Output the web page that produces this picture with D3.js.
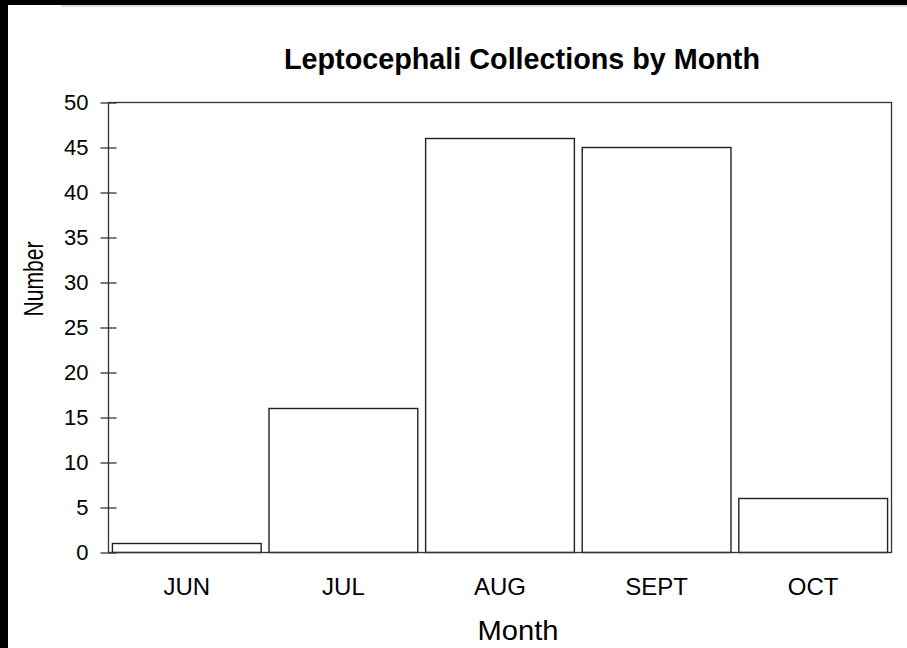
<!DOCTYPE html>
<html>
<head>
<meta charset="utf-8">
<script src="https://cdn.jsdelivr.net/npm/d3@7"></script>
<style>
  html, body { margin: 0; padding: 0; background: #fff; }
  svg { display: block; font-family: "Liberation Sans", Arial, sans-serif; }
</style>
</head>
<body>
<script>
'use strict';

// chart data
const months = ["JUN", "JUL", "AUG", "SEPT", "OCT"];
const counts = [1, 16, 46, 45, 6];
const yTicks = [0, 5, 10, 15, 20, 25, 30, 35, 40, 45, 50];

(function() {
  const W = 907, H = 648;
  const left = 108.5, right = 891.5, top = 102.5, bottom = 552.5;

  const svg = d3.select('body').append('svg')
    .attr('width', W)
    .attr('height', H);

  // black screen edge (left + top) and thin grey strip
  svg.append('rect').attr('x', 0).attr('y', 0).attr('width', W).attr('height', 5).attr('fill', '#000');
  svg.append('rect').attr('x', 0).attr('y', 0).attr('width', 8).attr('height', H).attr('fill', '#000');
  svg.append('rect').attr('x', 62).attr('y', 5).attr('width', W - 62).attr('height', 2).attr('fill', '#dcdcdc');

  // scales
  const x = d3.scaleBand()
    .domain(months)
    .range([left, right])
    .paddingInner(0.05)
    .paddingOuter(0.025);

  const y = d3.scaleLinear()
    .domain([0, 50])
    .range([bottom, top]);

  // bars
  svg.selectAll('.bar')
    .data(months)
    .enter()
    .append('rect')
    .attr('class', 'bar')
    .attr('x', d => x(d))
    .attr('y', (d, i) => y(counts[i]))
    .attr('width', x.bandwidth())
    .attr('height', (d, i) => y(0) - y(counts[i]))
    .attr('fill', '#fff')
    .attr('stroke', '#222')
    .attr('stroke-width', 1.4);

  // plot frame
  svg.append('rect')
    .attr('x', left).attr('y', top)
    .attr('width', right - left).attr('height', bottom - top)
    .attr('fill', 'none')
    .attr('stroke', '#333')
    .attr('stroke-width', 1.3);

  // y axis, ticks cross the axis line
  const yAxis = svg.append('g')
    .attr('transform', 'translate(' + left + ',0)')
    .call(d3.axisLeft(y).tickValues(yTicks).tickSizeInner(8).tickSizeOuter(0).tickPadding(12));
  yAxis.select('.domain').remove();
  yAxis.selectAll('.tick line')
    .attr('x1', 8)
    .attr('stroke', '#333')
    .attr('stroke-width', 1.3);
  yAxis.selectAll('.tick text')
    .style('font-size', '22px')
    .attr('fill', '#000')
    .style('font-family', '"Liberation Sans", Arial, sans-serif');

  // x axis labels only
  const xAxis = svg.append('g')
    .attr('transform', 'translate(0,' + bottom + ')')
    .call(d3.axisBottom(x).tickSize(0).tickPadding(25));
  xAxis.select('.domain').remove();
  xAxis.selectAll('.tick text')
    .style('font-size', '24px')
    .attr('fill', '#000')
    .style('font-family', '"Liberation Sans", Arial, sans-serif');

  // title
  svg.append('text')
    .attr('x', 522)
    .attr('y', 68.5)
    .attr('text-anchor', 'middle')
    .attr('textLength', 476)
    .attr('lengthAdjust', 'spacingAndGlyphs')
    .style('font-size', '29px')
    .style('font-weight', 'bold')
    .text('Leptocephali Collections by Month');

  // axis titles
  svg.append('text')
    .attr('x', 518)
    .attr('y', 640)
    .attr('text-anchor', 'middle')
    .attr('textLength', 81)
    .attr('lengthAdjust', 'spacingAndGlyphs')
    .style('font-size', '28px')
    .text('Month');

  svg.append('text')
    .attr('transform', 'translate(43,279)rotate(-90)')
    .attr('text-anchor', 'middle')
    .attr('textLength', 75)
    .attr('lengthAdjust', 'spacingAndGlyphs')
    .style('font-size', '27px')
    .text('Number');
})();
</script>
</body>
</html>
